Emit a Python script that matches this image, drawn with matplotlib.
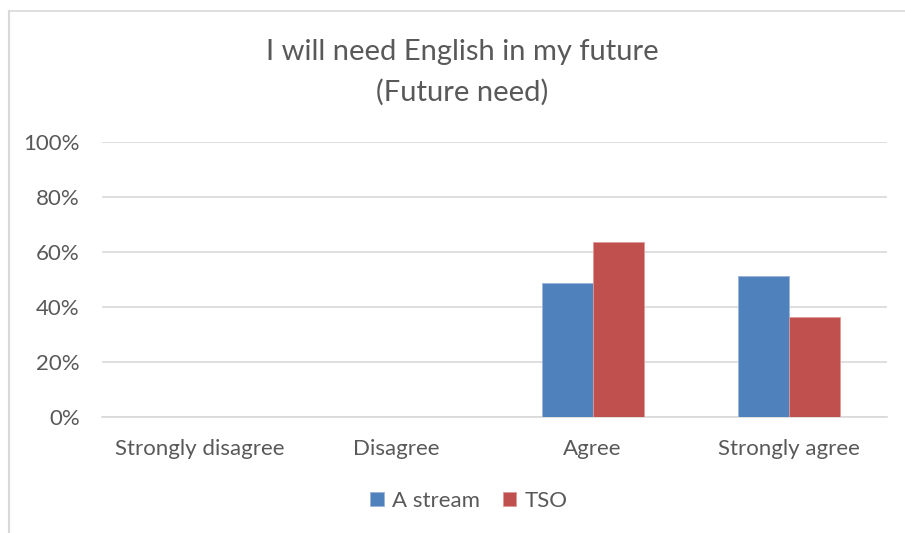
import matplotlib.pyplot as plt
import numpy as np
from matplotlib.lines import Line2D

plt.rcParams['font.family'] = ['Lato', 'DejaVu Sans']

categories = ['Strongly disagree', 'Disagree', 'Agree', 'Strongly agree']
a_stream = [0.0, 0.0, 0.486, 0.514]
tso = [0.0, 0.0, 0.636, 0.364]
series_names = ['A stream', 'TSO']
colors = ['#4f81bd', '#c0504d']
text_color = '#595959'

fig = plt.figure(figsize=(9.05, 5.33), dpi=100)
ax = fig.add_axes([102 / 905, 1 - 417 / 533, 785 / 905, 275 / 533])

x = np.arange(len(categories))
width = 0.26
ax.bar(x - width / 2, a_stream, width, color=colors[0], edgecolor='#9db5d9', linewidth=0.6,
       label=series_names[0], zorder=3)
ax.bar(x + width / 2, tso, width, color=colors[1], edgecolor='#dc9a98', linewidth=0.6,
       label=series_names[1], zorder=3)

ax.set_xlim(-0.5, len(categories) - 0.5)
ax.set_ylim(0, 1.0)
ax.set_yticks(np.arange(0, 1.01, 0.2))
ax.set_yticklabels([f'{int(round(v * 100))}%' for v in np.arange(0, 1.01, 0.2)])
ax.set_xticks(x)
ax.set_xticklabels(categories)
ax.grid(axis='y', color='#d9d9d9', linewidth=1.2, zorder=0)
ax.tick_params(axis='both', length=0, labelsize=16, colors=text_color)
ax.tick_params(axis='y', pad=16)
ax.tick_params(axis='x', pad=16)
for side in ['top', 'right', 'left']:
    ax.spines[side].set_visible(False)
ax.spines['bottom'].set_color('#d9d9d9')
ax.spines['bottom'].set_linewidth(1.2)

fig.text(462 / 905, 1 - 52 / 533, 'I will need English in my future', ha='center', va='center',
         fontsize=21, color=text_color)
fig.text(462 / 905, 1 - 92 / 533, '(Future need)', ha='center', va='center',
         fontsize=21, color=text_color)

fig.legend(loc='center', bbox_to_anchor=(469 / 905, 1 - 501 / 533), ncol=2, frameon=False,
           fontsize=16, labelcolor=text_color, handlelength=0.6, handleheight=0.6,
           handletextpad=0.4, columnspacing=1.0)

# chart frame lines along the top and left edges
fig.add_artist(Line2D([8.5 / 905, 1], [1 - 11 / 533] * 2, color='#d9d9d9', linewidth=1.2,
                      transform=fig.transFigure))
fig.add_artist(Line2D([8.5 / 905] * 2, [0, 1 - 11 / 533], color='#d9d9d9', linewidth=1.5,
                      transform=fig.transFigure))

fig.savefig('out.png', dpi=100, facecolor='white')
